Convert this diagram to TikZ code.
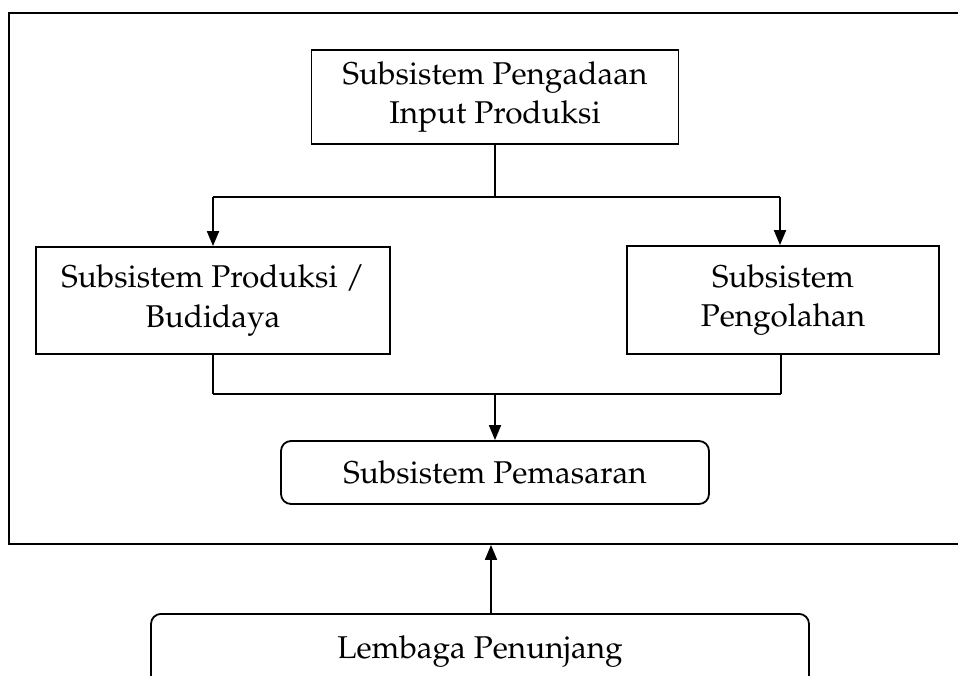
\documentclass[tikz,border=0pt]{standalone}
\usepackage[T1]{fontenc}
\usepackage{mathpazo}
\usetikzlibrary{arrows.meta,calc}
\tikzset{
  box/.style={draw, line width=1.8pt, align=center, inner sep=0pt, font=\fontsize{31.5}{39.5}\selectfont},
  rbox/.style={box, rounded corners=10pt},
  conn/.style={line width=1.8pt},
  bar/.style={line width=2.6pt},
  arr/.style={line width=1.8pt, -{Triangle[length=15pt,width=12pt]}}
}
\begin{document}
\begin{tikzpicture}[x=1pt,y=-1pt]
\useasboundingbox (0,0) rectangle (958,675);
\clip (0,0) rectangle (958,675);
\node[draw, line width=1.8pt, minimum width=956pt, minimum height=531pt, inner sep=0pt] (frame) at (487,278.5) {};
\node[box, minimum width=367pt, minimum height=94pt] (top) at (495,97) {Subsistem Pengadaan\\Input Produksi};
\node[box, minimum width=354pt, minimum height=107pt] (left) at (213,300.5) {Subsistem Produksi /\\Budidaya};
\node[box, minimum width=312pt, minimum height=108pt] (right) at (783,300) {Subsistem\\Pengolahan};
\node[rbox, minimum width=428pt, minimum height=63pt] (pem) at (495,472.5) {Subsistem Pemasaran};
\node[rbox, anchor=north, minimum width=658pt, text height=24pt, text depth=60pt, inner ysep=21pt] (lem) at (480,613) {Lembaga Penunjang};
% split from top box
\coordinate (s1) at (top.south |- 0,197);
\draw[conn] (top.south) -- (s1);
\coordinate (sl) at (left.north |- s1);
\coordinate (sr) at (780,197);
\draw[bar] (sl) -- (sr);
\draw[arr] (sl) -- (left.north);
\draw[arr] (sr) -- (sr |- right.north);
% merge into pemasaran
\coordinate (ml) at (left.south |- 0,394);
\coordinate (mr) at (781,394);
\draw[conn] (left.south) -- (ml);
\draw[conn] (781,354) -- (mr);
\draw[bar] (ml) -- (mr);
\draw[arr] (pem.north |- ml) -- (pem.north);
% lembaga to frame
\coordinate (la) at ($(lem.north)+(11,0)$);
\draw[arr] (la) -- (la |- frame.south);
\end{tikzpicture}
\end{document}
